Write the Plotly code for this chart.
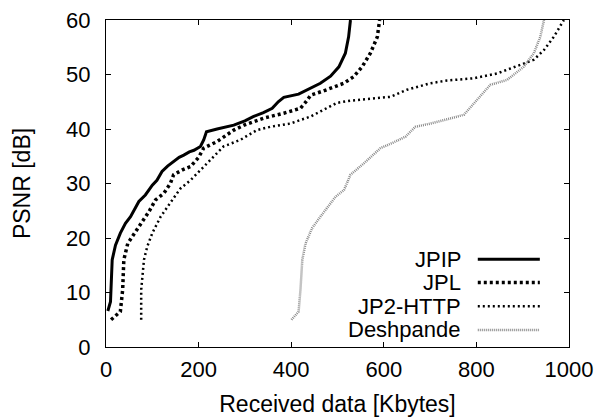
import plotly.graph_objects as go

# ---- data ----
jpip_x = [4, 9.7, 13.4, 20.5, 31, 42, 53, 62, 71, 85, 100, 110, 121, 133, 146, 158, 168, 180, 190, 204, 211, 217, 240, 276, 300, 319, 340, 359, 372, 384, 416, 442, 463, 485, 503, 517, 524, 528]
jpip_y = [6.6, 8.3, 16, 18.7, 20.9, 22.7, 23.9, 25.3, 26.7, 27.9, 29.7, 30.6, 32.2, 33.2, 34, 34.8, 35.2, 35.8, 36.1, 36.8, 38, 39.5, 40, 40.7, 41.5, 42.3, 43, 43.8, 45, 45.8, 46.4, 47.5, 48.4, 49.7, 51.4, 53.9, 56.9, 60]

jpl_x = [11, 20, 31, 36, 38.5, 47, 56.5, 74.5, 92.5, 107, 125, 139, 146, 165, 182.5, 200, 211, 240, 276, 298, 341, 384, 420, 432, 442, 470, 499, 514, 535, 553, 571, 586, 591]
jpl_y = [5, 5.6, 6.5, 10.5, 16, 19, 20.2, 22.7, 24.8, 27, 28.2, 30, 31.6, 32.5, 33.1, 34.8, 36.5, 37.7, 39.8, 40.7, 42, 42.9, 43.8, 45, 46.2, 47, 47.9, 48.4, 49.6, 51.4, 53.9, 56.9, 60]

jp2_x = [76, 76, 82, 89, 100, 118, 145, 161, 182.5, 204, 233, 254, 290, 326, 355, 398, 442, 470, 499, 528, 557, 614, 650, 701, 737, 794, 845, 895, 924, 946, 967, 989]
jp2_y = [5, 10.5, 16, 18.4, 20.9, 23.9, 27.2, 29.1, 30.6, 32.5, 34.9, 36.8, 38, 39.8, 40.4, 41, 42.3, 43.5, 44.8, 45.2, 45.4, 45.9, 47.2, 48.4, 48.9, 49.3, 50.2, 51.7, 52.7, 54.5, 56.9, 60]

desh_x = [400.6, 416, 420, 424, 431, 445, 463, 481, 496, 514, 528, 557, 593, 620, 647, 668, 701, 773, 802, 830, 866, 902, 924, 938, 946]
desh_y = [5, 6.5, 10.5, 16, 19, 21.8, 23.9, 26, 27.6, 28.8, 31.6, 33.7, 36.5, 37.5, 38.6, 40.4, 41, 42.6, 45.3, 48.1, 49, 51.4, 53.9, 56.9, 60]

series_names = ["JPIP", "JPL", "JP2-HTTP", "Deshpande"]
x_ticks = [0, 200, 400, 600, 800, 1000]
y_ticks = [0, 10, 20, 30, 40, 50, 60]

FONT = "Liberation Sans, Arial, Helvetica, sans-serif"
styles = [
    dict(color="black", width=3, dash="solid"),
    dict(color="black", width=3.5, dash="3px,3px"),
    dict(color="black", width=2.5, dash="2px,3px"),
    dict(color="#8a8a8a", width=2.5, dash="1px,1px"),
]
data = [(jpip_x, jpip_y), (jpl_x, jpl_y), (jp2_x, jp2_y), (desh_x, desh_y)]

fig = go.Figure()
for name, (xs, ys), st in zip(series_names, data, styles):
    fig.add_trace(go.Scatter(x=xs, y=ys, mode="lines", name=name,
                             line=dict(color=st["color"], width=st["width"], dash=st["dash"]),
                             showlegend=False))

# manual legend: text on the left, line sample on the right
leg_rows = [0.268, 0.197, 0.125, 0.052]
for name, st, yy in zip(series_names, styles, leg_rows):
    fig.add_annotation(xref="paper", yref="paper", x=0.769, y=yy, text=name,
                       showarrow=False, xanchor="right", yanchor="middle", borderpad=0,
                       font=dict(family=FONT, size=22, color="black"))
    fig.add_shape(type="line", xref="paper", yref="paper", x0=0.803, x1=0.937, y0=yy, y1=yy,
                  line=dict(color=st["color"], width=st["width"], dash=st["dash"]))

axis_common = dict(showgrid=False, zeroline=False, showline=True, linecolor="black", linewidth=1,
                   mirror="ticks", ticks="inside", ticklen=5, tickcolor="black", tickwidth=1,
                   automargin=False,
                   tickfont=dict(family=FONT, size=22, color="black"))

fig.update_xaxes(range=[0, 1000], tickvals=x_ticks, ticklabelstandoff=3,
                 title=dict(text="Received data [Kbytes]", font=dict(family=FONT, size=23, color="black"), standoff=21),
                 **axis_common)
fig.update_yaxes(range=[0, 60], tickvals=y_ticks, ticklabelstandoff=10,
                 title=dict(text="PSNR [dB]", font=dict(family=FONT, size=23, color="black"), standoff=29),
                 **axis_common)

fig.update_layout(width=600, height=417, margin=dict(l=106, r=31, t=20, b=70),
                  plot_bgcolor="white", paper_bgcolor="white",
                  font=dict(family=FONT, color="black"))

fig.write_html("out.html", config={"displayModeBar": False},
               post_script="document.body.style.margin='0';document.body.style.overflow='hidden';")
